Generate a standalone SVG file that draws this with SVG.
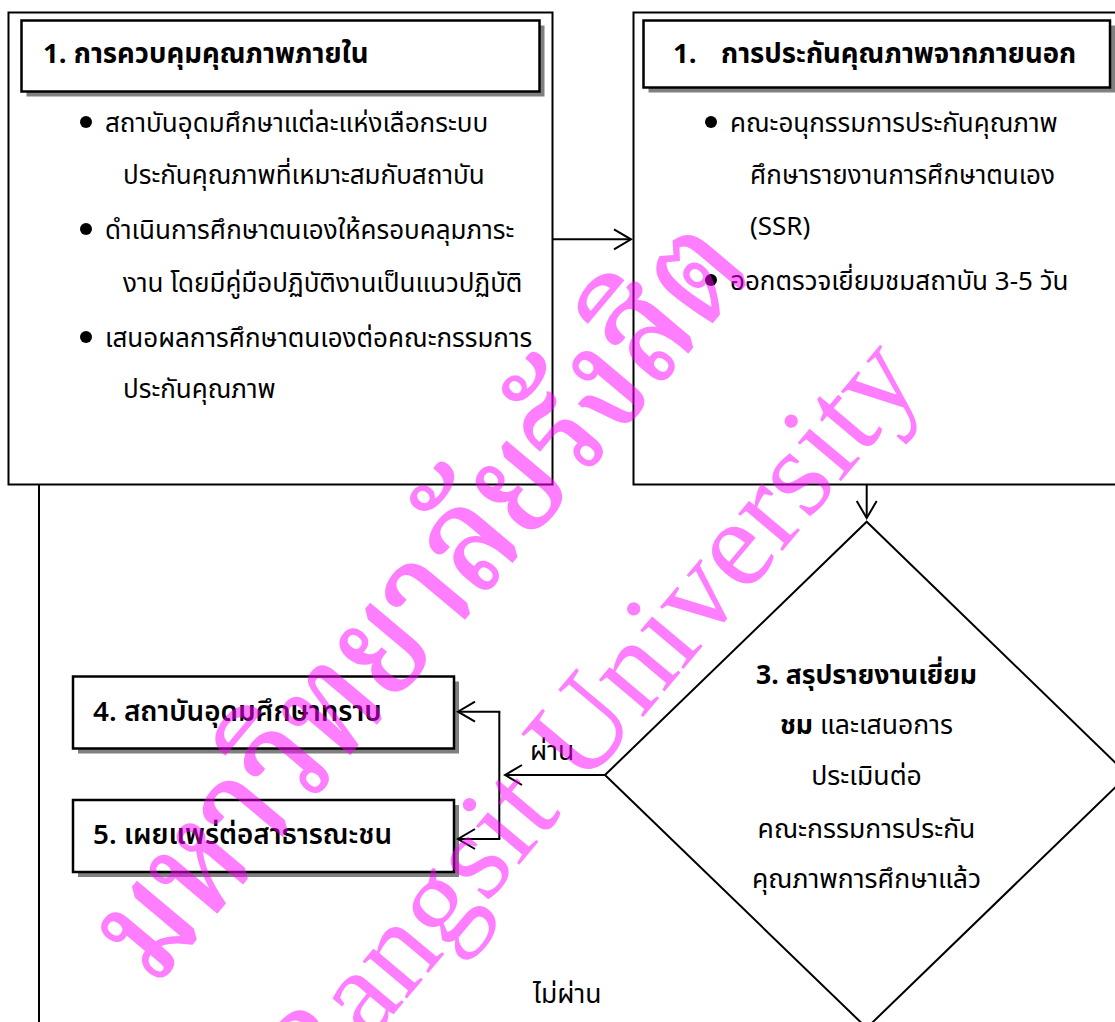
<svg xmlns="http://www.w3.org/2000/svg" width="1115" height="1022" viewBox="0 0 1115 1022">
  <style>
    .frame { fill: #ffffff; stroke: #000000; stroke-width: 2; }
    .box { fill: #ffffff; stroke: #000000; stroke-width: 2.5; }
    .shadow { fill: #808080; stroke: none; }
    .line { fill: none; stroke: #000000; stroke-width: 2; }
    .txt { font-family: "Noto Sans Thai", "Noto Sans", "DejaVu Sans", sans-serif; font-size: 26px; fill: #000000; }
    .dtxt { font-family: "Noto Sans Thai", "Noto Sans", "DejaVu Sans", sans-serif; font-size: 26.6px; fill: #000000; text-anchor: middle; }
    .title { font-family: "Noto Sans Thai", "Noto Sans", "DejaVu Sans", sans-serif; font-size: 27.5px; font-weight: bold; fill: #000000; }
    .step { font-family: "Noto Sans Thai", "Noto Sans", "DejaVu Sans", sans-serif; font-size: 27.8px; font-weight: 600; fill: #000000; }
    .lbl { font-family: "Noto Sans Thai", "Noto Sans", "DejaVu Sans", sans-serif; font-size: 26.5px; fill: #000000; }
    .b { font-weight: bold; }
    .wm { fill: #ff00ff; opacity: 0.5; }
  </style>
  <defs>
    <marker id="arrow" markerUnits="userSpaceOnUse" markerWidth="24" markerHeight="24" viewBox="-20 -12 24 24" refX="0" refY="0" orient="auto">
      <path d="M-17,-10 L0,0 L-17,10" fill="none" stroke="#000000" stroke-width="2"/>
    </marker>
  </defs>

  <rect width="1115" height="1022" fill="#ffffff"/>

  <!-- internal quality control -->
  <g id="internal">
    <rect class="frame" x="8.5" y="12.5" width="544" height="472"/>
    <rect class="shadow" x="26.5" y="25.5" width="518" height="71"/>
    <rect class="box" x="21.5" y="20.5" width="518" height="71"/>
    <text class="title" x="43" y="63">1. การควบคุมคุณภาพภายใน</text>
    <circle cx="86" cy="122" r="6"/>
    <text class="txt" x="105" y="132">สถาบันอุดมศึกษาแต่ละแห่งเลือกระบบ</text>
    <text class="txt" x="123" y="184">ประกันคุณภาพที่เหมาะสมกับสถาบัน</text>
    <circle cx="86" cy="229" r="6"/>
    <text class="txt" x="105" y="239">ดำเนินการศึกษาตนเองให้ครอบคลุมภาระ</text>
    <text class="txt" x="123" y="292">งาน โดยมีคู่มือปฏิบัติงานเป็นแนวปฏิบัติ</text>
    <circle cx="86" cy="337" r="6"/>
    <text class="txt" x="105" y="347">เสนอผลการศึกษาตนเองต่อคณะกรรมการ</text>
    <text class="txt" x="123" y="398">ประกันคุณภาพ</text>
  </g>

  <!-- external quality assurance -->
  <g id="external">
    <rect class="frame" x="633.5" y="12.5" width="500" height="472"/>
    <rect class="shadow" x="648.5" y="25.5" width="466.5" height="67"/>
    <rect class="box" x="643.5" y="20.5" width="466.5" height="67"/>
    <text class="title" x="673" y="63">1.</text>
    <text class="title" x="721" y="63">การประกันคุณภาพจากภายนอก</text>
    <circle cx="711" cy="122" r="6"/>
    <text class="txt" x="730" y="132">คณะอนุกรรมการประกันคุณภาพ</text>
    <text class="txt" x="750" y="184">ศึกษารายงานการศึกษาตนเอง</text>
    <text class="txt" x="750" y="235">(SSR)</text>
    <circle cx="711" cy="280" r="6"/>
    <text class="txt" x="730" y="290">ออกตรวจเยี่ยมชมสถาบัน 3-5 วัน</text>
  </g>

  <!-- visit summary decision -->
  <g id="decision">
    <polygon class="line" points="866.7,521.7 1128,775 866.7,1028 605,775"/>
    <text class="dtxt b" x="866.5" y="684">3. สรุปรายงานเยี่ยม</text>
    <text class="dtxt" x="866.5" y="734"><tspan class="b">ชม</tspan> และเสนอการ</text>
    <text class="dtxt" x="866.5" y="785">ประเมินต่อ</text>
    <text class="dtxt" x="866.5" y="838">คณะกรรมการประกัน</text>
    <text class="dtxt" x="866.5" y="888">คุณภาพการศึกษาแล้ว</text>
  </g>

  <g id="inform">
    <rect class="shadow" x="78" y="681.5" width="381" height="72"/>
    <rect class="box" x="73" y="676.5" width="381" height="72"/>
    <text class="step" x="93" y="721">4. สถาบันอุดมศึกษาทราบ</text>
  </g>

  <g id="publish">
    <rect class="shadow" x="78" y="805" width="381" height="72"/>
    <rect class="box" x="73" y="800" width="381" height="72"/>
    <text class="step" x="93" y="844">5. เผยแพร่ต่อสาธารณะชน</text>
  </g>

  <!-- connectors -->
  <g id="connectors">
    <line class="line" x1="552" y1="239.3" x2="631" y2="239.3" marker-end="url(#arrow)"/>
    <line class="line" x1="866.7" y1="484" x2="866.7" y2="518" marker-end="url(#arrow)"/>
    <line class="line" x1="605" y1="775" x2="505" y2="775" marker-end="url(#arrow)"/>
    <polyline class="line" points="499.3,711.7 499.3,839"/>
    <line class="line" x1="500.3" y1="711.7" x2="458" y2="711.7" marker-end="url(#arrow)"/>
    <line class="line" x1="500.3" y1="839" x2="458" y2="839" marker-end="url(#arrow)"/>
    <line class="line" x1="39" y1="484" x2="39" y2="1022"/>
    <text class="lbl" x="530" y="760">ผ่าน</text>
    <text class="lbl" x="533" y="1003">ไม่ผ่าน</text>
  </g>

  <!-- university watermark -->
  <g id="watermark" class="wm">
    <text transform="translate(155,988) rotate(-50)" font-family="'Noto Serif Thai', 'Noto Sans Thai', serif" font-size="150" font-weight="600" textLength="935" lengthAdjust="spacingAndGlyphs">มหาวิทยาลัยรังสิต</text>
    <text transform="translate(315,1108) rotate(-50)" font-family="'Liberation Serif', serif" font-size="126">Rangsit University</text>
  </g>
</svg>
